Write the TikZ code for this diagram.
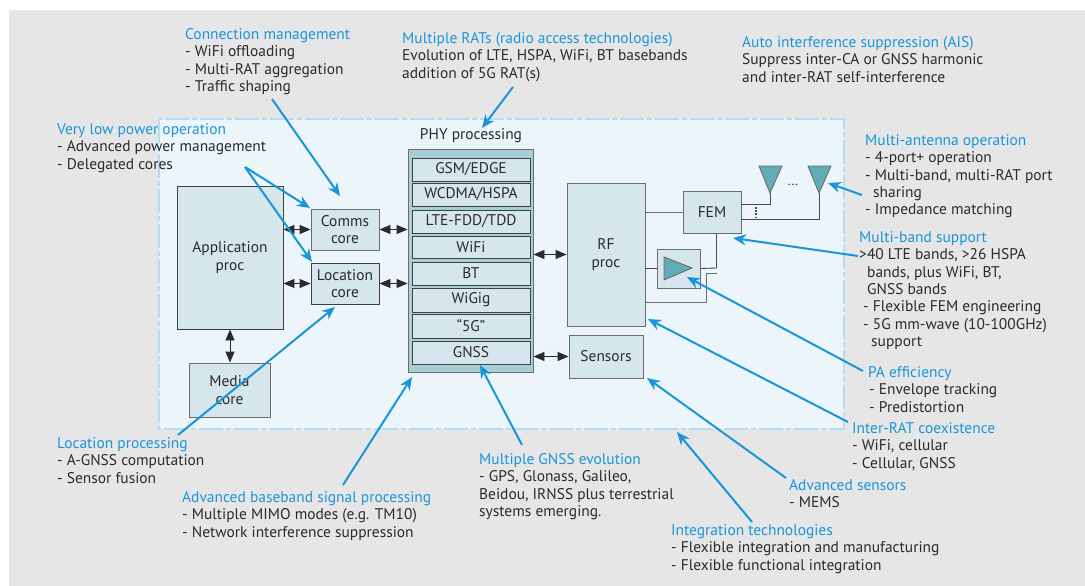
\documentclass[tikz,border=0pt]{standalone}
\usepackage{fontspec}
\setmainfont{PT Sans}
\usetikzlibrary{arrows.meta,calc}
\definecolor{bggray}{HTML}{E6E6E7}
\definecolor{panelfill}{HTML}{EBF5FA}
\definecolor{panelline}{HTML}{B3DDF5}
\definecolor{boxfill}{HTML}{D5E7EC}
\definecolor{phyfill}{HTML}{A9CFD6}
\definecolor{antfill}{HTML}{62ADB5}
\definecolor{callblue}{HTML}{1B95D9}
\definecolor{ink}{HTML}{2B2A2C}
\definecolor{edgegray}{HTML}{6A6C6E}
\newcommand{\ttl}[1]{\textcolor{callblue}{#1}}
\newcommand{\ind}{\hspace*{8pt}}
\tikzset{
  x=1pt,y=-1pt,
  lab/.style={anchor=north west,inner sep=0pt,align=left,text=ink,font=\fontsize{15.45}{17.45}\selectfont},
  box/.style={draw=edgegray,line width=0.9pt,fill=boxfill,inner sep=0pt,align=center,text=ink,font=\fontsize{15.45}{17.45}\selectfont},
  darkbox/.style={box,draw=ink!90},
  rowbox/.style={box,draw=ink!90,minimum width=118pt},
  dbl/.style={draw=ink,line width=0.9pt,{Triangle[length=11pt,width=9pt]}-{Triangle[length=11pt,width=9pt]}},
  call/.style={draw=callblue,line width=2pt,-{Stealth[length=13pt,width=11pt]}},
  wire/.style={draw=ink!85,line width=0.9pt},
  ant/.style={draw=edgegray,line width=0.9pt,fill=antfill},
}
\begin{document}
\begin{tikzpicture}
\useasboundingbox (0,0) rectangle (1085,586);
\fill[white] (0,0) rectangle (1085,586);
\fill[bggray] (9,10) rectangle (1085,586);
\draw[panelline,fill=panelfill,line width=2.4pt,dash pattern=on 24pt off 3pt on 5pt off 3pt] (159,119) rectangle (844,429);

% blocks
\node[darkbox,minimum width=106pt,minimum height=143pt] (app) at (230,257.5) {Application\\proc};
\node[box,minimum width=68pt,minimum height=41pt] (comms) at (345,229.5) {Comms\\core};
\node[darkbox,minimum width=68pt,minimum height=41pt] (loc) at (345,283.5) {Location\\core};
\node[box,minimum width=81pt,minimum height=54pt] (media) at (229.5,390) {Media\\core};
\node[box,fill=phyfill,minimum width=125pt,minimum height=223pt] (phy) at (470.5,260.5) {};
\node[inner sep=0pt,text=ink,font=\fontsize{15.45}{17.45}\selectfont] (phylabel) at (471,136) {PHY processing};
\node[rowbox,minimum height=23pt] (r1) at (471,169.5) {GSM/EDGE};
\node[rowbox,minimum height=23pt] (r2) at (471,194.5) {WCDMA/HSPA};
\node[rowbox,minimum height=23pt] (r3) at (471,221.5) {LTE-FDD/TDD};
\node[rowbox,minimum height=22pt] (r4) at (471,247) {WiFi};
\node[rowbox,minimum height=23pt] (r5) at (471,273.5) {BT};
\node[rowbox,minimum height=24pt] (r6) at (471,300) {WiGig};
\node[rowbox,minimum height=24pt] (r7) at (471,326) {“5G”};
\node[rowbox,minimum height=23pt] (r8) at (471,352.5) {GNSS};
\node[box,minimum width=78pt,minimum height=143pt] (rf) at (606,254.5) {RF\\proc};
\node[box,minimum width=74pt,minimum height=43pt] (sens) at (606,356.5) {Sensors};
\node[box,minimum width=58pt,minimum height=42pt] (fem) at (712,212) {FEM};
\node[box,minimum width=43pt,minimum height=39pt] (pa) at (678.5,268.5) {};

% antennas and PA triangle
\coordinate (a1) at (770,193);
\coordinate (a2) at (819,193);
\draw[ant] (759,166) -- (782,166) -- (a1) -- cycle;
\draw[ant] (808,166) -- (831,166) -- (a2) -- cycle;
\draw[ant] (664,257) -- (692,268) -- (664,280) -- cycle;
\node[inner sep=0pt,text=ink,font=\fontsize{13}{14}\selectfont] (adots) at (793,185) {...};

% RF wiring
\coordinate (lowend) at (717,273);
\draw[wire,draw=edgegray] (rf.east |- fem) -- (fem.west);
\draw[wire] (rf.east |- pa) -- (pa.west);
\draw[wire] (pa.east) -- (716.5,268) -- (716.5,233);
\draw[wire,draw=edgegray] (645,302) -- (706,302) -- (706,273) -- (lowend);
\draw[wire] (741,204) -- (770,204) -- (a1);
\draw[wire] (741,219) -- (819,219) -- (a2);
\draw[wire,line width=1.3pt,dash pattern=on 1.6pt off 1.6pt] (756,207) -- (756,217);

% double arrows
\draw[dbl] (app.east |- comms) -- (comms.west);
\draw[dbl] (app.east |- loc) -- (loc.west);
\draw[dbl] (comms.east) -- (comms -| phy.west);
\draw[dbl] (loc.east) -- (loc -| phy.west);
\draw[dbl] (app.south) -- (app.south |- media.north);
\draw[dbl] (phy.east |- rf) -- (rf.west);
\draw[dbl] (phy.east |- sens) -- (sens.west);

% labels
\node[lab] (lcm) at (185,28) {\ttl{Connection management}\\- WiFi offloading\\- Multi-RAT aggregation\\- Traffic shaping};
\node[lab] (lrat) at (402,32) {\ttl{Multiple RATs (radio access technologies)}\\Evolution of LTE, HSPA, WiFi, BT basebands\\addition of 5G RAT(s)};
\node[lab] (lais) at (742,36) {\ttl{Auto interference suppression (AIS)}\\Suppress inter-CA or GNSS harmonic\\and inter-RAT self-interference};
\node[lab] (lvlp) at (57,123) {\ttl{Very low power operation}\\- Advanced power management\\- Delegated cores};
\node[lab] (lant) at (865,134) {\ttl{Multi-antenna operation}\\- 4-port+ operation\\- Multi-band, multi-RAT port\\\ind sharing\\- Impedance matching};
\node[lab] (lband) at (859,231) {\ttl{Multi-band support}\\>40 LTE bands, >26 HSPA\\\ind bands, plus WiFi, BT,\\\ind GNSS bands\\\hspace*{4pt}- Flexible FEM engineering\\\hspace*{4pt}- 5G mm-wave (10-100GHz)\\\hspace*{12pt}support};
\node[lab] (lpa) at (868,366) {\ttl{PA efficiency}\\\hspace*{1pt}- Envelope tracking\\\hspace*{1pt}- Predistortion};
\node[lab] (lirat) at (852,422) {\ttl{Inter-RAT coexistence}\\- WiFi, cellular\\- Cellular, GNSS};
\node[lab] (lsens) at (789,479) {\ttl{Advanced sensors}\\- MEMS};
\node[lab] (lint) at (671,524) {\ttl{Integration technologies}\\- Flexible integration and manufacturing\\- Flexible functional integration};
\node[lab] (lgnss) at (479,453) {\ttl{Multiple GNSS evolution}\\- GPS, Glonass, Galileo,\\Beidou, IRNSS plus terrestrial\\systems emerging.};
\node[lab] (lbb) at (182,491) {\ttl{Advanced baseband signal processing}\\- Multiple MIMO modes (e.g. TM10)\\- Network interference suppression};
\node[lab] (lloc) at (57,437) {\ttl{Location processing}\\- A-GNSS computation\\- Sensor fusion};

% callout arrows
\coordinate (scm) at (272,99);   \coordinate (tcm) at (340,196);
\coordinate (srat) at (513,87);  \coordinate (trat) at (482,128);
\coordinate (svlp) at (245,167); \coordinate (tvc) at (310,208); \coordinate (tvl) at (312,262);
\coordinate (sloc) at (178,435); \coordinate (tloc) at (335,307);
\coordinate (sbb) at (343,485);  \coordinate (tbb) at (412,377);
\coordinate (sgn) at (522,445);  \coordinate (tgn) at (480,365);
\coordinate (sint) at (752,522); \coordinate (tint) at (677,432);
\coordinate (ssen) at (786,478); \coordinate (tsen) at (647,378);
\coordinate (sir) at (848,422);  \coordinate (tir) at (648,319);
\coordinate (spa) at (863,371);  \coordinate (tpa) at (687,277);
\coordinate (sbd) at (858,256);  \coordinate (tbd) at (733,238);
\coordinate (san) at (862,195);  \coordinate (tan) at (828,183);
\draw[call] (scm) -- (tcm);
\draw[call] (srat) -- (trat);
\draw[call] (svlp) -- (tvc);
\draw[call] (svlp) -- (tvl);
\draw[call] (sloc) -- (tloc);
\draw[call] (sbb) -- (tbb);
\draw[call] (sgn) -- (tgn);
\draw[call] (sint) -- (tint);
\draw[call] (ssen) -- (tsen);
\draw[call] (sir) -- (tir);
\draw[call] (spa) -- (tpa);
\draw[call] (sbd) -- (tbd);
\draw[call] (san) -- (tan);
\end{tikzpicture}
\end{document}
